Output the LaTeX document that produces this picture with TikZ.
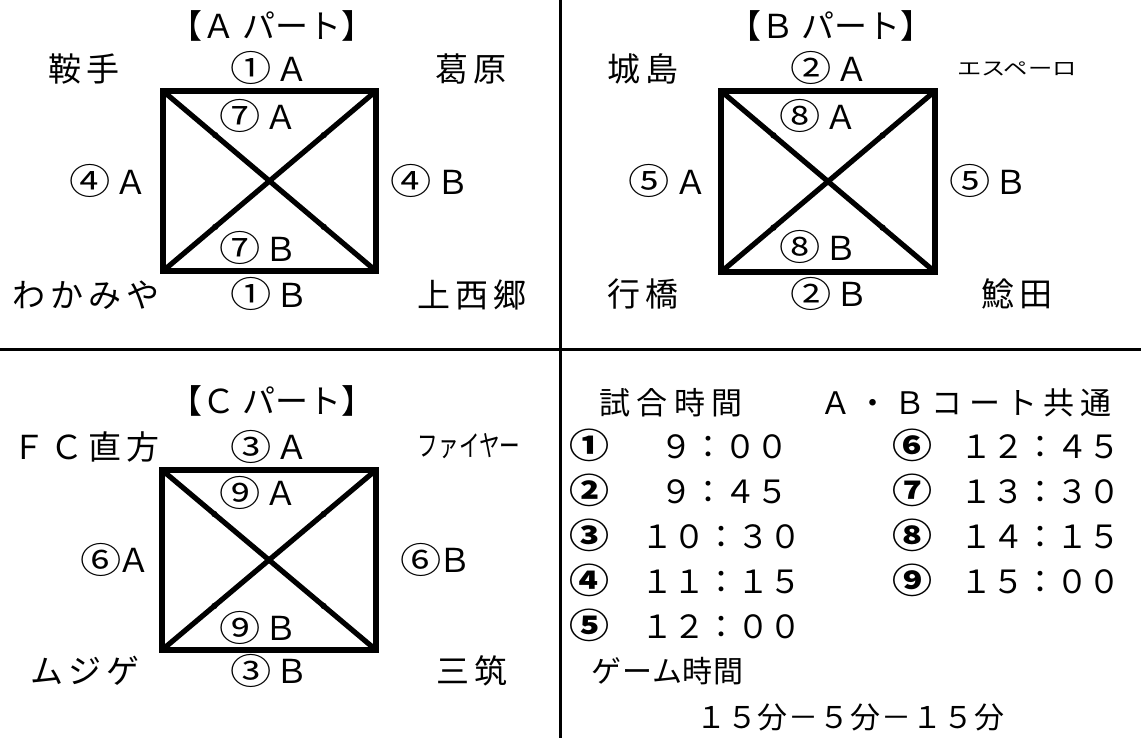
\documentclass[tikz,border=0pt]{standalone}
\usepackage{fontspec}
\usetikzlibrary{calc}
\setmainfont{Noto Sans CJK JP}
\newfontfamily\jpls[LetterSpace=15]{Noto Sans CJK JP}
\newfontfamily\jphd[LetterSpace=20]{Noto Sans CJK JP}
\newfontfamily\jpsm[LetterSpace=3]{Noto Sans CJK JP}
\newcommand\cd[1]{\raisebox{-0.5pt}{\scalebox{1.25}[1.08]{#1}}}
\newcommand\cl[2]{\cd{#1}\hspace{4pt}#2}
\newcommand\ct[2]{\cd{#1}\hspace{-4pt}#2}
\tikzset{
  lbl/.style={inner sep=0pt, text height=29pt, text depth=4pt, font=\fontsize{33}{36}\selectfont},
  nm/.style={inner sep=0pt, text height=29pt, text depth=4pt, font=\jpls\fontsize{33}{36}\selectfont},
  hd/.style={inner sep=0pt, text height=27pt, text depth=4pt, font=\jphd\fontsize{31}{34}\selectfont},
  tm/.style={inner sep=0pt, text height=28pt, text depth=4pt, anchor=west, font=\fontsize{32}{35}\selectfont},
  cn/.style={inner sep=0pt, text height=28pt, text depth=4pt, anchor=west, font=\bfseries\fontsize{32}{35}\selectfont},
  gm/.style={inner sep=0pt, text height=26pt, text depth=4pt, anchor=west, font=\jpsm\fontsize{30}{33}\selectfont},
  court/.style={line width=6.2pt, line join=miter},
  diag/.style={line width=5.2pt},
  joint/.style={fill=black, circle, inner sep=0pt, minimum size=6.4pt},
  divider/.style={line width=3pt}
}
\newcommand\courtbox[5]{%
  \draw[court] (#1) -- (#2) -- (#3) -- (#4) -- cycle;
  \draw[diag] (#1) -- (#3);
  \draw[diag] (#2) -- (#4);
  \node[joint] (#5j1) at ($(#1)!0.245!(#3)$) {};
  \node[joint] (#5j2) at ($(#1)!0.755!(#3)$) {};
  \node[joint] (#5j3) at ($(#2)!0.245!(#4)$) {};
  \node[joint] (#5j4) at ($(#2)!0.755!(#4)$) {};
}
\begin{document}
\begin{tikzpicture}[x=1pt,y=-1pt]
\useasboundingbox (0,0) rectangle (1141,738);
\fill[white] (0,0) rectangle (1141,738);

% dividers
\coordinate (vtop) at (560.5,0);
\coordinate (vbot) at (560.5,738);
\coordinate (hl) at (0,349.5);
\coordinate (hr) at (1141,349.5);
\draw[divider] (vtop) -- (vbot);
\draw[divider] (hl) -- (hr);

% ---------- A part ----------
\coordinate (a1) at (163,91);
\coordinate (a2) at (376,91);
\coordinate (a3) at (376,271);
\coordinate (a4) at (163,271);
\courtbox{a1}{a2}{a3}{a4}{a}
\node[lbl] (atitle) at (272,26) {【Ａ パート】};
\node[nm] (aTL) at (84,69) {鞍手};
\node[lbl] (aT) at (269.5,69) {\cl{①}{Ａ}};
\node[nm] (aTR) at (471,69) {葛原};
\node[lbl] (aIT) at (258.5,117) {\cl{⑦}{Ａ}};
\node[lbl] (aL) at (108.5,182) {\cl{④}{Ａ}};
\node[lbl] (aR) at (430,182) {\cl{④}{Ｂ}};
\node[lbl] (aIB) at (258.5,249) {\cl{⑦}{Ｂ}};
\node[nm] (aBL) at (86,295) {わかみや};
\node[lbl] (aB) at (269.5,295) {\cl{①}{Ｂ}};
\node[nm] (aBR) at (472,295) {上西郷};

% ---------- B part ----------
\coordinate (b1) at (721,91);
\coordinate (b2) at (935,91);
\coordinate (b3) at (935,272);
\coordinate (b4) at (721,272);
\courtbox{b1}{b2}{b3}{b4}{b}
\node[lbl] (btitle) at (831,26) {【Ｂ パート】};
\node[nm] (bTL) at (643,69) {城島};
\node[lbl] (bT) at (829.5,69) {\cl{②}{Ａ}};
\node[inner sep=0pt] (bTR) at (1017,69) {\scalebox{1.28}[1]{\fontsize{19}{21}\selectfont エスペーロ}};
\node[lbl] (bIT) at (818.5,117) {\cl{⑧}{Ａ}};
\node[lbl] (bL) at (668,182) {\cl{⑤}{Ａ}};
\node[lbl] (bR) at (988.5,182) {\cl{⑤}{Ｂ}};
\node[lbl] (bIB) at (818.5,248) {\cl{⑧}{Ｂ}};
\node[nm] (bBL) at (643,294) {行橋};
\node[lbl] (bB) at (829.5,294) {\cl{②}{Ｂ}};
\node[nm] (bBR) at (1017,294) {鯰田};

% ---------- C part ----------
\coordinate (c1) at (162,470);
\coordinate (c2) at (376,470);
\coordinate (c3) at (376,650);
\coordinate (c4) at (162,650);
\courtbox{c1}{c2}{c3}{c4}{c}
\node[lbl] (ctitle) at (272,401) {【Ｃ パート】};
\node[nm] (cTL) at (86,447) {ＦＣ直方};
\node[lbl] (cT) at (269.5,447) {\cl{③}{Ａ}};
\node[inner sep=0pt] (cTR) at (469,446) {\scalebox{0.71}[1]{\fontsize{29}{31}\selectfont ファイヤー}};
\node[lbl] (cIT) at (258.5,493) {\cl{⑨}{Ａ}};
\node[lbl] (cL) at (115.5,560) {\ct{⑥}{Ａ}};
\node[lbl] (cR) at (436,560) {\ct{⑥}{Ｂ}};
\node[lbl] (cIB) at (258.5,628) {\cl{⑨}{Ｂ}};
\node[nm] (cBL) at (85,671) {ムジゲ};
\node[lbl] (cB) at (269.5,671) {\cl{③}{Ｂ}};
\node[nm] (cBR) at (472,671) {三筑};

% ---------- schedule ----------
\node[hd] (shead) at (671,403) {試合時間};
\node[hd] (scommon) at (966,403) {Ａ・Ｂコート共通};
\node[cn] (n1) at (569,446) {\cd{①}};
\node[cn] (n2) at (569,491) {\cd{②}};
\node[cn] (n3) at (569,536) {\cd{③}};
\node[cn] (n4) at (569,581) {\cd{④}};
\node[cn] (n5) at (569,626) {\cd{⑤}};
\node[cn] (n6) at (892,446) {\cd{⑥}};
\node[cn] (n7) at (892,491) {\cd{⑦}};
\node[cn] (n8) at (892,536) {\cd{⑧}};
\node[cn] (n9) at (892,581) {\cd{⑨}};
\node[tm] (t1) at (660.5,446) {９：００};
\node[tm] (t2) at (660.5,491) {９：４５};
\node[tm] (t3) at (641.5,536) {１０：３０};
\node[tm] (t4) at (641.5,581) {１１：１５};
\node[tm] (t5) at (641.5,626) {１２：００};
\node[tm] (t6) at (960.5,446) {１２：４５};
\node[tm] (t7) at (960.5,491) {１３：３０};
\node[tm] (t8) at (960.5,536) {１４：１５};
\node[tm] (t9) at (960.5,581) {１５：００};
\node[gm] (game) at (591,671) {ゲーム時間};
\node[gm] (gtime) at (696,717) {１５分－５分－１５分};
\end{tikzpicture}
\end{document}
